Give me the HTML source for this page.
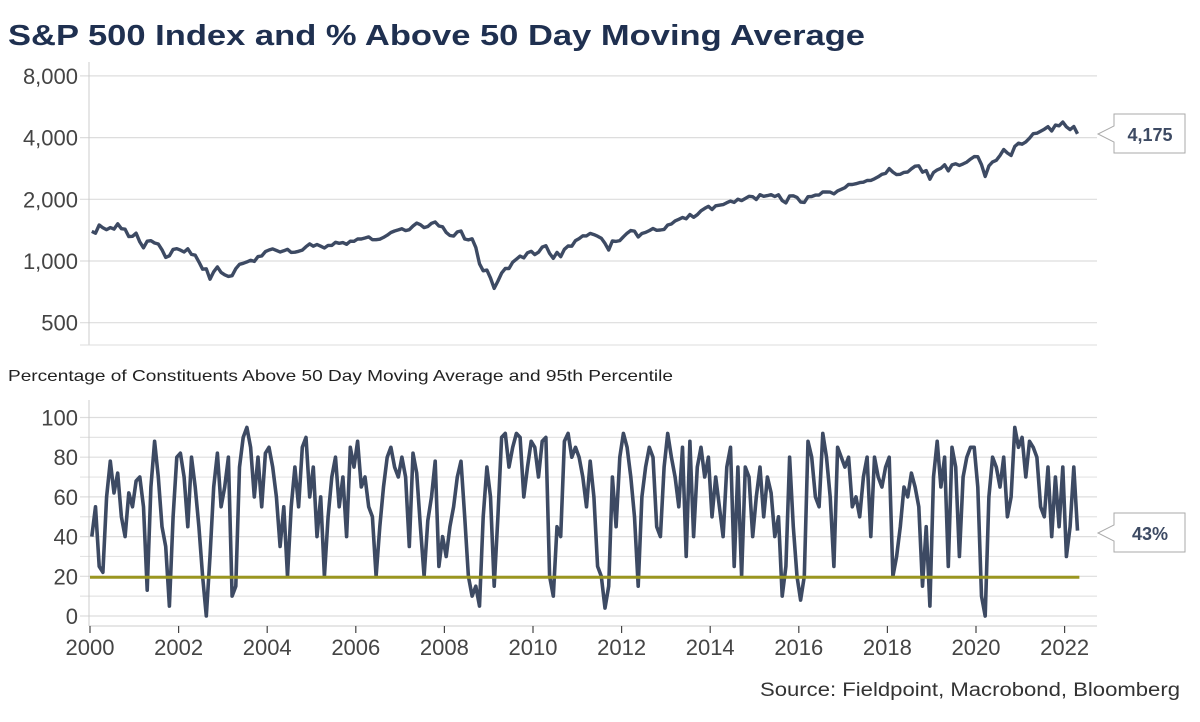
<!DOCTYPE html>
<html><head><meta charset="utf-8"><style>
body{margin:0;background:#fff;width:1200px;height:717px;overflow:hidden;font-family:"Liberation Sans",sans-serif}
</style></head><body>
<svg width="1200" height="717" font-family="Liberation Sans, sans-serif">
<text x="8" y="45" font-size="29" font-weight="bold" fill="#1f3050" textLength="857" lengthAdjust="spacingAndGlyphs">S&amp;P 500 Index and % Above 50 Day Moving Average</text>
<text x="8" y="381" font-size="16" fill="#222" textLength="665" lengthAdjust="spacingAndGlyphs">Percentage of Constituents Above 50 Day Moving Average and 95th Percentile</text>
<text x="1180" y="696" font-size="19" fill="#333" text-anchor="end" textLength="420" lengthAdjust="spacingAndGlyphs">Source: Fieldpoint, Macrobond, Bloomberg</text>
<g id="topg"></g><g id="botg"></g><g id="xaxg"></g>
<g>
<path d="M1114,114 H1185 V153 H1114 V142 L1098,134 L1114,126 Z" fill="#fff" stroke="#aaa"/>
<text id="spxlab" x="1150" y="141" font-size="18" font-weight="bold" fill="#3d4a63" text-anchor="middle"></text></g>
<g>
<path d="M1114,513 H1185 V552 H1114 V541 L1098,533 L1114,525 Z" fill="#fff" stroke="#aaa"/>
<text id="pctlab" x="1150" y="540" font-size="18" font-weight="bold" fill="#3d4a63" text-anchor="middle"></text></g>
</svg>
<script>
const spxStartYear = 2000;
const spx = [1394,1366,1499,1452,1421,1455,1431,1518,1437,1429,1315,1320,
1366,1240,1160,1249,1256,1224,1211,1134,1041,1060,1139,1148,
1130,1107,1147,1077,1067,990,912,916,815,886,936,880,
856,841,848,917,964,975,990,1008,996,1051,1058,1112,
1131,1145,1126,1107,1121,1141,1102,1104,1115,1130,1174,1212,
1181,1204,1181,1157,1192,1191,1234,1220,1229,1207,1249,1248,
1280,1281,1295,1311,1270,1270,1277,1304,1336,1378,1401,1418,
1438,1407,1421,1482,1531,1503,1455,1474,1527,1549,1481,1468,
1379,1331,1323,1386,1400,1280,1267,1283,1165,969,896,903,
826,735,798,873,919,919,987,1021,1057,1036,1096,1115,
1074,1104,1169,1187,1089,1031,1102,1049,1141,1183,1181,1258,
1286,1327,1326,1364,1345,1321,1292,1219,1131,1253,1247,1258,
1312,1366,1408,1398,1310,1362,1379,1407,1441,1412,1416,1426,
1498,1515,1569,1598,1631,1606,1686,1633,1682,1757,1806,1848,
1783,1859,1872,1884,1924,1960,1931,2003,1972,2018,2068,2059,
1995,2105,2068,2086,2107,2063,2104,1972,1920,2079,2080,2044,
1940,1932,2060,2065,2097,2099,2174,2171,2168,2126,2199,2239,
2279,2364,2363,2384,2412,2423,2470,2472,2519,2575,2648,2674,
2824,2714,2641,2648,2705,2718,2816,2902,2914,2712,2760,2507,
2704,2784,2834,2946,2752,2942,2980,2926,2977,3038,3141,3231,
3226,2954,2585,2912,3044,3100,3271,3500,3363,3270,3622,3756,
3714,3811,3973,4181,4204,4298,4395,4523,4308,4605,4567,4766,
4516,4374,4530,4175];
const pct = [40,55,25,22,60,78,62,72,50,40,62,55,
68,70,55,13,65,88,70,45,35,5,50,80,
82,70,45,80,65,45,20,0,30,65,82,55,
65,80,10,15,75,90,95,85,60,80,55,82,
85,75,60,35,55,20,55,75,55,85,90,60,
75,40,60,20,50,70,80,55,70,40,85,75,
88,65,70,55,50,20,45,65,80,85,75,70,
80,70,35,82,72,45,20,48,60,78,25,40,
30,45,55,70,78,50,20,10,15,5,50,75,
60,15,50,90,92,75,85,92,90,60,75,88,
85,70,88,90,20,10,45,40,88,92,80,85,
80,70,55,78,60,25,20,4,15,70,45,80,
92,85,70,50,15,60,75,85,80,45,40,75,
92,80,70,55,85,30,88,40,75,85,70,80,
50,70,55,40,75,85,25,75,20,75,70,40,
60,75,50,70,62,40,50,10,25,80,45,20,
8,20,88,80,60,55,92,80,60,25,85,80,
75,80,55,60,50,70,80,40,80,70,65,75,
80,20,30,45,65,60,72,65,55,15,45,5,
70,88,65,80,25,85,75,30,70,80,85,85,
65,10,0,60,80,75,65,80,50,60,95,85,
90,70,88,85,80,55,50,75,40,70,45,75,
30,45,75,43];
const threshold = 19.5;
const spxTicks = [500,1000,2000,4000,8000];
const pctTicks = [0,20,40,60,80,100];
const pctMinor = [10,30,50,70,90];
const yearTicks = [2000,2002,2004,2006,2008,2010,2012,2014,2016,2018,2020,2022];

const NS="http://www.w3.org/2000/svg";
function mk(p,t,a){const e=document.createElementNS(NS,t);for(const k in a)e.setAttribute(k,a[k]);p.appendChild(e);return e;}
const X0=90, XR=1097;
const xs = y => X0 + (y-2000)*44.3;
const ys1 = v => 261 - Math.log2(v/1000)*61.7;
const ys2 = v => 616 - v*1.985;
const topG=document.getElementById('topg'), botG=document.getElementById('botg'), xaxG=document.getElementById('xaxg');

spxTicks.forEach(t=>{
  const g=mk(topG,'line',{x1:X0-10,x2:XR,y1:ys1(t),y2:ys1(t),stroke:'#ddd','stroke-width':1.2});
  
  
  const l=mk(topG,'text',{x:78,y:ys1(t)+8,'font-size':22,fill:'#444','text-anchor':'end'});
  l.textContent=t.toLocaleString('en-US');
  
  
});
mk(topG,'line',{x1:X0-1,x2:X0-1,y1:62,y2:345,stroke:'#ccc'});
mk(topG,'line',{x1:X0-10,x2:XR,y1:345,y2:345,stroke:'#ddd'});
let d='';
spx.forEach((v,i)=>{d+=(i?'L':'M')+xs(spxStartYear+(i+0.5)/12).toFixed(1)+','+ys1(v).toFixed(1);});
const sl=mk(topG,'path',{d:d,fill:'none',stroke:'#3d4a63','stroke-width':3.4,'stroke-linejoin':'round'});


document.getElementById('spxlab').textContent=spx[spx.length-1].toLocaleString('en-US');

pctMinor.forEach(t=>{mk(botG,'line',{x1:X0-10,x2:XR,y1:ys2(t),y2:ys2(t),stroke:'#e4e4e4','stroke-width':1.2});});
pctTicks.forEach(t=>{
  const g=mk(botG,'line',{x1:X0-10,x2:XR,y1:ys2(t),y2:ys2(t),stroke:'#ddd','stroke-width':1.2});
  
  
  const l=mk(botG,'text',{x:78,y:ys2(t)+8,'font-size':22,fill:'#444','text-anchor':'end'});
  l.textContent=t;
  
  
});
mk(botG,'line',{x1:X0-1,x2:X0-1,y1:400,y2:626,stroke:'#ccc'});
mk(botG,'line',{x1:X0-1,x2:XR,y1:626,y2:626,stroke:'#ccc'});
let d2='';
pct.forEach((v,i)=>{d2+=(i?'L':'M')+xs(spxStartYear+(i+0.5)/12).toFixed(1)+','+ys2(v).toFixed(1);});
const pl=mk(botG,'path',{d:d2,fill:'none',stroke:'#3d4a63','stroke-width':3.6,'stroke-linejoin':'round'});


const th=mk(botG,'line',{x1:X0,x2:xs(spxStartYear+(pct.length)/12),y1:ys2(threshold),y2:ys2(threshold),stroke:'#9a9620','stroke-width':3});


document.getElementById('pctlab').textContent=pct[pct.length-1]+'%';

yearTicks.forEach(y=>{
  mk(xaxG,'line',{x1:xs(y),x2:xs(y),y1:626,y2:633,stroke:'#444','stroke-width':1.2});
  const l=mk(xaxG,'text',{x:xs(y),y:655,'font-size':22,fill:'#444','text-anchor':'middle'});
  l.textContent=y;
  
  
});
</script>
</body></html>
